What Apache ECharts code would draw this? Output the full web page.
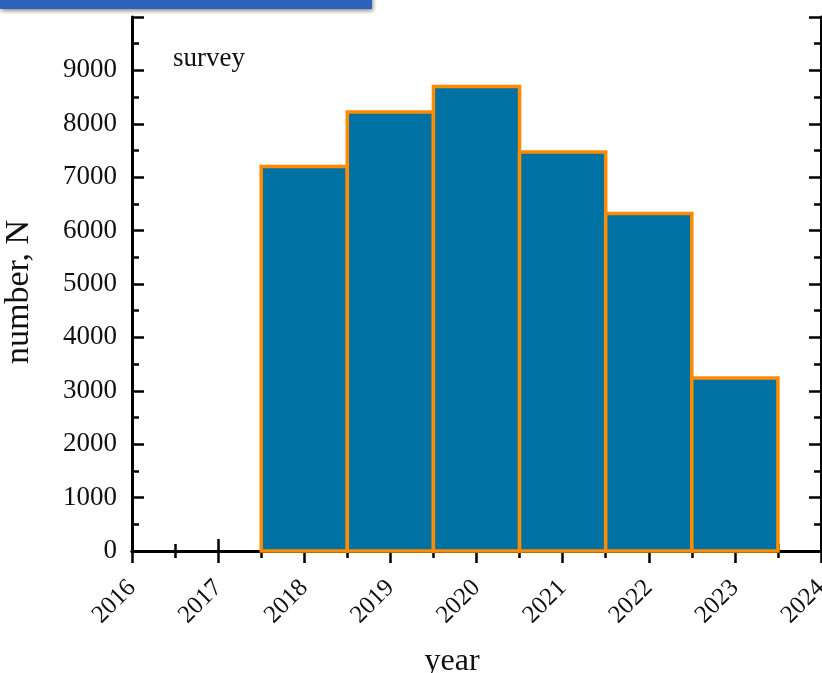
<!DOCTYPE html>
<html>
<head>
<meta charset="utf-8">
<script src="https://cdn.jsdelivr.net/npm/echarts@6/dist/echarts.min.js"></script>
<style>html,body{margin:0;padding:0;background:#fff}#c{width:822px;height:673px}</style>
</head>
<body>
<div id="c"></div>
<script>
var years = [2018, 2019, 2020, 2021, 2022, 2023];
var counts = [7200, 8220, 8700, 7470, 6320, 3240];
var xTickLabels = ['2016','2017','2018','2019','2020','2021','2022','2023','2024'];
var yTickLabels = ['0','1000','2000','3000','4000','5000','6000','7000','8000','9000'];

var font = 'Liberation Serif, Times New Roman, serif';
var chart = echarts.init(document.getElementById('c'));
var axisLine = {show: true, lineStyle: {color: '#000', width: 3}};
var tick = {show: true, inside: true, length: 12, lineStyle: {color: '#000', width: 2.5}};
var minor = {show: true, splitNumber: 2, length: 7, lineStyle: {color: '#000', width: 2.5}};

chart.setOption({
  animation: false,
  grid: {left: 132, right: 1, top: 17, bottom: 122, containLabel: false, outerBoundsMode: 'none'},
  graphic: [
    {type: 'rect', shape: {x: 0, y: -5, width: 372, height: 14},
     style: {fill: '#2f62bd', shadowBlur: 4, shadowColor: 'rgba(0,0,0,0.45)', shadowOffsetX: 1, shadowOffsetY: 2}},
    {type: 'text', left: 173, top: 45,
     style: {text: 'survey', font: '27px ' + font, fill: '#111'}}
  ],
  xAxis: [
    {type: 'value', min: 2016, max: 2024, interval: 1, position: 'bottom',
     axisLine: axisLine, axisTick: tick, minorTick: minor, splitLine: {show: false},
     axisLabel: {rotate: 45, margin: 33, fontFamily: font, fontSize: 25, color: '#111',
       formatter: function (v) { return xTickLabels[Math.round(v - 2016)]; }},
     name: 'year', nameLocation: 'middle', nameGap: 95,
     nameTextStyle: {fontFamily: font, fontSize: 32, color: '#111', padding: [0, 49, 0, 0]}},
    {type: 'value', min: 2016, max: 2024, interval: 1, position: 'top',
     axisLine: axisLine, axisTick: tick, minorTick: minor, splitLine: {show: false},
     axisLabel: {show: false}}
  ],
  yAxis: [
    {type: 'value', min: 0, max: 10000, interval: 1000, position: 'left',
     axisLine: axisLine, axisTick: tick, minorTick: minor, splitLine: {show: false},
     axisLabel: {margin: 15, fontFamily: font, fontSize: 27, color: '#111',
       formatter: function (v) { var i = Math.round(v / 1000); return i < yTickLabels.length ? yTickLabels[i] : ''; }},
     name: 'number, N', nameLocation: 'middle', nameGap: 96,
     nameTextStyle: {fontFamily: font, fontSize: 34, color: '#111', padding: [0, 16, 0, 0]}},
    {type: 'value', min: 0, max: 10000, interval: 1000, position: 'right',
     axisLine: axisLine, axisTick: tick, minorTick: minor, splitLine: {show: false},
     axisLabel: {show: false}}
  ],
  series: [{
    type: 'custom',
    xAxisIndex: 0, yAxisIndex: 0,
    data: years.map(function (y, i) { return [y, counts[i]]; }),
    renderItem: function (params, api) {
      var x = api.value(0), v = api.value(1);
      var p1 = api.coord([x - 0.5, v]);
      var p2 = api.coord([x + 0.5, 0]);
      return {
        type: 'rect',
        shape: {x: p1[0], y: p1[1], width: p2[0] - p1[0], height: p2[1] - p1[1]},
        style: {fill: '#0071a3', stroke: '#ff8c00', lineWidth: 3.5}
      };
    }
  }]
});
</script>
</body>
</html>
